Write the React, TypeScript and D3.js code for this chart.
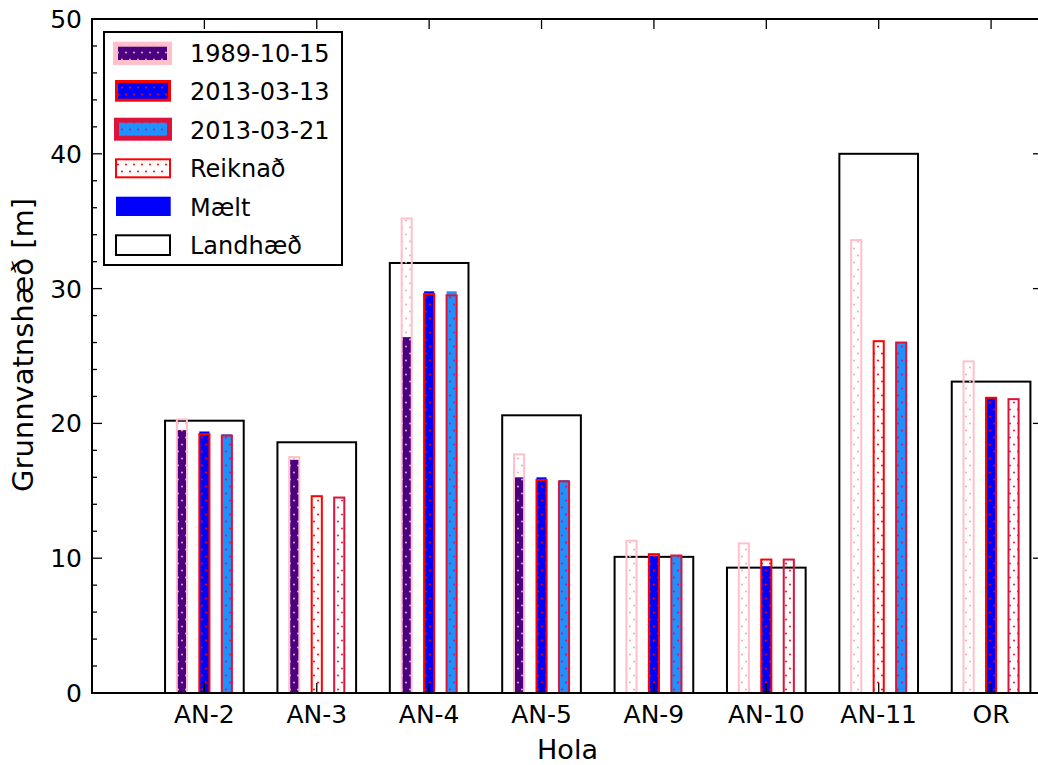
import React from "react";
import * as d3 from "d3";

// Holur og gildi lesin af myndinni
const wells = ["AN-2", "AN-3", "AN-4", "AN-5", "AN-9", "AN-10", "AN-11", "OR"];
const landhaed = [20.2, 18.6, 31.9, 20.6, 10.1, 9.3, 40.0, 23.1];

const calc1989 = [20.3, 17.5, 35.2, 17.7, 11.3, 11.1, 33.6, 24.6];
const meas1989 = [19.5, 17.3, 26.4, 16.0, null, null, null, null];
const calc0313 = [19.2, 14.6, 29.6, 15.8, 10.3, 9.9, 26.1, 21.9];
const meas0313 = [19.4, null, 29.8, 16.0, 10.2, 9.4, null, 21.9];
const calc0321 = [19.1, 14.5, 29.5, 15.7, 10.2, 9.9, 26.0, 21.8];
const meas0321 = [19.2, null, 29.8, 15.8, 10.2, null, 26.0, null];

const yMajor = [0, 10, 20, 30, 40, 50];
const yMinor = d3.range(0, 51, 2);
const legendLabels = ["1989-10-15", "2013-03-13", "2013-03-21", "Reiknað", "Mælt", "Landhæð"];

const WIDTH = 1038;
const HEIGHT = 765;
const LEFT = 92;
const RIGHT = 1043;
const TOP = 19;
const BOTTOM = 693;
const FONT = "DejaVu Sans, sans-serif";

type Series = {
  calc: (number | null)[];
  meas: (number | null)[];
  offset: number;
  edge: string;
  fill: string;
  pat: string;
};

const series: Series[] = [
  { calc: calc1989, meas: meas1989, offset: -0.2, edge: "#ffc0cb", fill: "#4b0082", pat: "dotPink" },
  { calc: calc0313, meas: meas0313, offset: 0, edge: "#ff0000", fill: "#0000ff", pat: "dotRed" },
  { calc: calc0321, meas: meas0321, offset: 0.2, edge: "#dc143c", fill: "#1e90ff", pat: "dotCrimson" },
];

export default function App() {
  const x = d3
    .scaleLinear()
    .domain([-1, 7.462])
    .range([LEFT, RIGHT]);
  const y = d3.scaleLinear().domain([0, 50]).range([BOTTOM, TOP]);

  const unit = x(1) - x(0);
  const barW = 0.09 * unit;
  const boxW = 0.7 * unit;

  const patterns = [
    { id: "dotPink", color: "#f2a7b8" },
    { id: "dotRed", color: "#ff0000" },
    { id: "dotCrimson", color: "#dc143c" },
  ];

  const rowY = (i: number) => 53 + i * 38.4;

  return (
    <svg
      width={WIDTH}
      height={HEIGHT}
      style={{ position: "absolute", left: 0, top: 0, background: "white" }}
      fontFamily={FONT}
    >
      <defs>
        {patterns.map((p) => (
          <pattern
            key={p.id}
            id={p.id}
            patternUnits="userSpaceOnUse"
            width={8}
            height={14}
          >
            <circle cx={2} cy={3.5} r={1} fill={p.color} />
            <circle cx={6} cy={10.5} r={1} fill={p.color} />
          </pattern>
        ))}
        <clipPath id="plotClip">
          <rect x={LEFT} y={TOP} width={RIGHT - LEFT} height={BOTTOM - TOP} />
        </clipPath>
      </defs>

      <g clipPath="url(#plotClip)">
        {/* Landhæð */}
        {wells.map((w, i) => (
          <rect
            key={"box" + w}
            x={x(i) - boxW / 2}
            y={y(landhaed[i])}
            width={boxW}
            height={y(0) - y(landhaed[i])}
            fill="none"
            stroke="black"
            strokeWidth={2}
          />
        ))}

        {series.map((s, si) =>
          wells.map((w, i) => {
            const cx = x(i + s.offset);
            const m = s.meas[i];
            const c = s.calc[i];
            return (
              <g key={"bar" + si + w}>
                {m !== null && (
                  <rect
                    x={cx - barW / 2}
                    y={y(m)}
                    width={barW}
                    height={y(0) - y(m)}
                    fill={s.fill}
                  />
                )}
                {c !== null && (
                  <rect
                    x={cx - barW / 2}
                    y={y(c)}
                    width={barW}
                    height={y(0) - y(c)}
                    fill={`url(#${s.pat})`}
                    stroke={s.edge}
                    strokeWidth={2}
                  />
                )}
              </g>
            );
          })
        )}
      </g>

      {/* ticks */}
      <g stroke="black" strokeWidth={1.3}>
        {yMinor.map((v) => {
          const len = yMajor.includes(v) ? 10 : 5;
          return (
            <g key={"yt" + v}>
              <line x1={LEFT} x2={LEFT + len} y1={y(v)} y2={y(v)} />
              <line x1={RIGHT} x2={RIGHT - len} y1={y(v)} y2={y(v)} />
            </g>
          );
        })}
        {wells.map((w, i) => (
          <g key={"xt" + w}>
            <line x1={x(i)} x2={x(i)} y1={BOTTOM} y2={BOTTOM - 10} />
            <line x1={x(i)} x2={x(i)} y1={TOP} y2={TOP + 10} />
          </g>
        ))}
      </g>

      {/* spines */}
      <rect
        x={LEFT}
        y={TOP}
        width={RIGHT - LEFT}
        height={BOTTOM - TOP}
        fill="none"
        stroke="black"
        strokeWidth={2}
      />

      {/* tick labels */}
      {yMajor.map((v) => (
        <text
          key={"yl" + v}
          x={LEFT - 10}
          y={y(v) + 9}
          fontSize={25}
          textAnchor="end"
          fill="black"
        >
          {v}
        </text>
      ))}
      {wells.map((w, i) => (
        <text
          key={"xl" + w}
          x={x(i)}
          y={723}
          fontSize={25}
          textAnchor="middle"
          fill="black"
        >
          {w}
        </text>
      ))}

      {/* axis labels */}
      <text x={(LEFT + RIGHT) / 2} y={759} fontSize={27} textAnchor="middle">
        Hola
      </text>
      <text
        transform={`translate(33, 345) rotate(-90)`}
        fontSize={29}
        textAnchor="middle"
      >
        Grunnvatnshæð [m]
      </text>

      {/* legend */}
      <g>
        <rect x={104} y={32} width={238} height={233} fill="white" stroke="black" strokeWidth={2} />
        <rect x={115.5} y={44.2} width={54} height={18.3} fill={series[0].fill} stroke={series[0].edge} strokeWidth={5} />
        <rect x={115.5} y={44.2} width={54} height={18.3} fill="url(#dotPink)" />
        <rect x={116.5} y={81.5} width={53} height={18.7} fill={series[1].fill} stroke={series[1].edge} strokeWidth={3} />
        <rect x={116.5} y={81.5} width={53} height={18.7} fill="url(#dotRed)" />
        <rect x={116.5} y={120.2} width={53} height={18} fill={series[2].fill} stroke={series[2].edge} strokeWidth={5} />
        <rect x={116.5} y={120.2} width={53} height={18} fill="url(#dotCrimson)" />
        <rect x={116} y={159.3} width={54} height={18} fill="white" stroke="#ff0000" strokeWidth={2} />
        <rect x={116} y={159.3} width={54} height={18} fill="url(#dotRed)" />
        <rect x={116} y={196.7} width={54.7} height={19.3} fill="#0000ff" />
        <rect x={116} y={235.3} width={54} height={19.7} fill="white" stroke="black" strokeWidth={2} />
        {legendLabels.map((l, i) => (
          <text key={l} x={190} y={rowY(i) + 9} fontSize={24} fill="black">
            {l}
          </text>
        ))}
      </g>
    </svg>
  );
}
